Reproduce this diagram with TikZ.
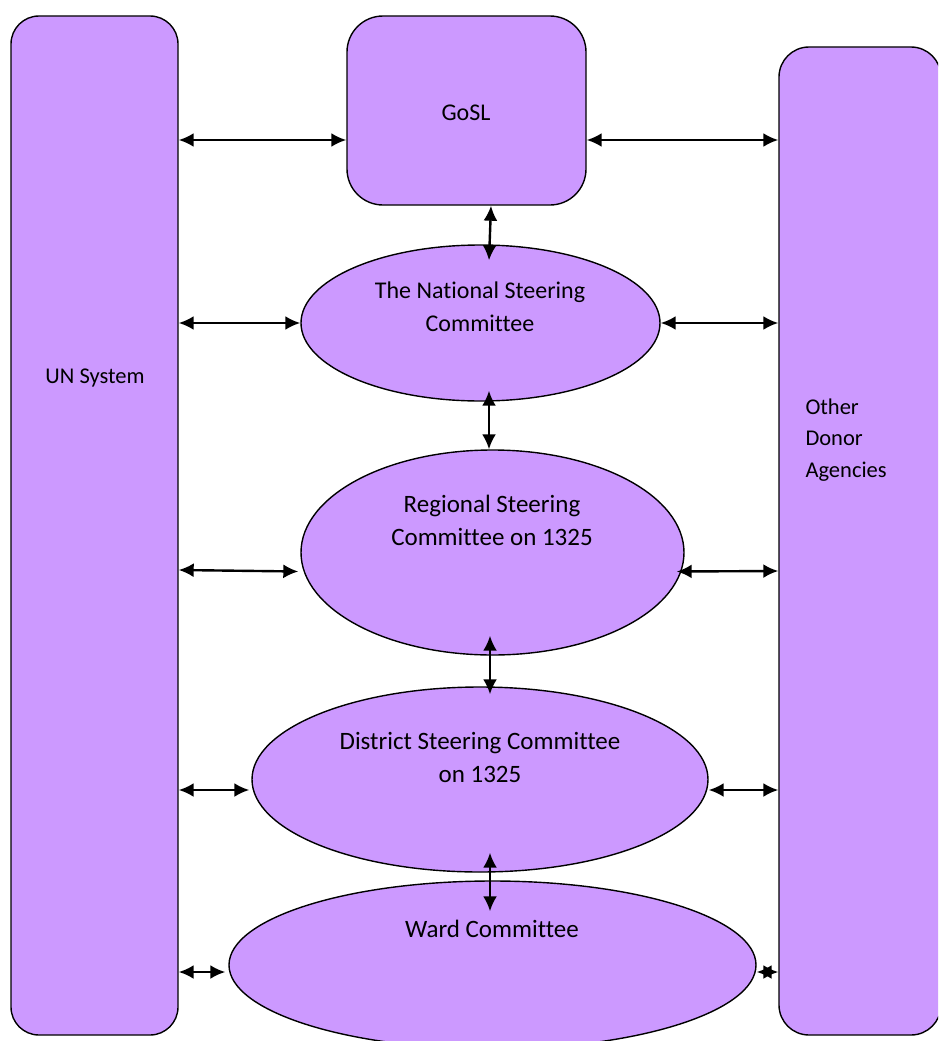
\documentclass[tikz,border=0pt]{standalone}
\usepackage{fontspec}
\setmainfont[Ligatures=NoCommon]{Carlito}
\usetikzlibrary{arrows.meta,shapes.geometric,calc}
\definecolor{lilac}{HTML}{CC99FF}
\tikzset{
  >={Latex[length=15,width=14]},
  panel/.style  = {draw, line width=1.4, fill=lilac, rounded corners=#1},
  panel/.default = 28,
  cttee/.style  = {ellipse, draw, line width=1.4, fill=lilac, inner sep=0},
  link/.style   = {<->, line width=2.4},
  bigtext/.style = {font=\fontsize{#1}{33}\selectfont, align=center},
  bigtext/.default = 25,
  smalltext/.style = {font=\fontsize{22.5}{31.5}\selectfont, align=left}
}

\begin{document}
\begin{tikzpicture}[x=1pt,y=-1pt]
  \useasboundingbox (0,0) rectangle (938,1041);
  \clip (0,0) rectangle (938,1041);

  % side panels and top box
  \node (un) at (94.5,525.5) [panel, minimum width=167, minimum height=1019] {};
  \node (donor) at (860,541) [panel=30, minimum width=162, minimum height=988] {};
  \node (gosl) at (466.5,110.5) [panel=36, minimum width=239, minimum height=189] {};

  % committees
  \node (nsc) at (480.5,323) [cttee, minimum width=359, minimum height=156] {};
  \node (rsc) at (492.5,552.5) [cttee, minimum width=383, minimum height=205] {};
  \node (dsc) at (480,779.5) [cttee, minimum width=456, minimum height=185] {};
  \node (ward) at (492.5,965) [cttee, minimum width=527, minimum height=168] {};

  % texts
  \node (untext) at (95,378) [smalltext] {UN System};
  \node (donortext) at (802,440) [smalltext, anchor=west] {Other\\Donor\\Agencies};
  \node (gosltext) at (466,113) [bigtext=24] {GoSL};
  \node (nsctext) at (480,307) [bigtext=24] {The National Steering\\Committee};
  \node (rsctext) at (492,520) [bigtext] {Regional Steering\\Committee on 1325};
  \node (dsctext) at (480,757) [bigtext] {District Steering Committee\\on 1325};
  \node (wardtext) at (492,929) [bigtext] {Ward Committee};

  % horizontal links
  \draw[link] (un.east |- 0,140) -- (gosl.west |- 0,140);
  \draw[link] (gosl.east |- 0,140) -- (donor.west |- 0,140);
  \draw[link] (un.east |- nsc.west) -- (nsc.west);
  \draw[link] (nsc.east) -- (donor.west |- nsc.east);
  \draw[link] (un.east |- 0,570) -- ($(rsc.west)+(-2,19)$);
  \draw[link] ($(rsc.east)+(-8,19)$) -- (donor.west |- 0,571);
  \draw[link] (un.east |- 0,790) -- ($(dsc.west)+(-2,10.5)$);
  \draw[link] ($(dsc.east)+(0,10.5)$) -- (donor.west |- 0,790);
  \draw[link] (un.east |- 0,972) -- ($(ward.west)+(-3,7)$);
  \draw[link] ($(ward.east)+(0,7)$) -- (donor.west |- 0,972);

  % vertical links
  \draw[link] ($(gosl.south)+(24.5,0)$) -- ($(nsc.north)+(8.5,16)$);
  \draw[link] ($(nsc.south)+(8.5,-11)$) -- ($(rsc.north)+(-3.5,0)$);
  \draw[link] ($(rsc.south)+(-2.5,-20)$) -- ($(dsc.north)+(10,8)$);
  \draw[link] ($(dsc.south)+(10,-20)$) -- ($(ward.north)+(-2.5,31)$);
\end{tikzpicture}
\end{document}
